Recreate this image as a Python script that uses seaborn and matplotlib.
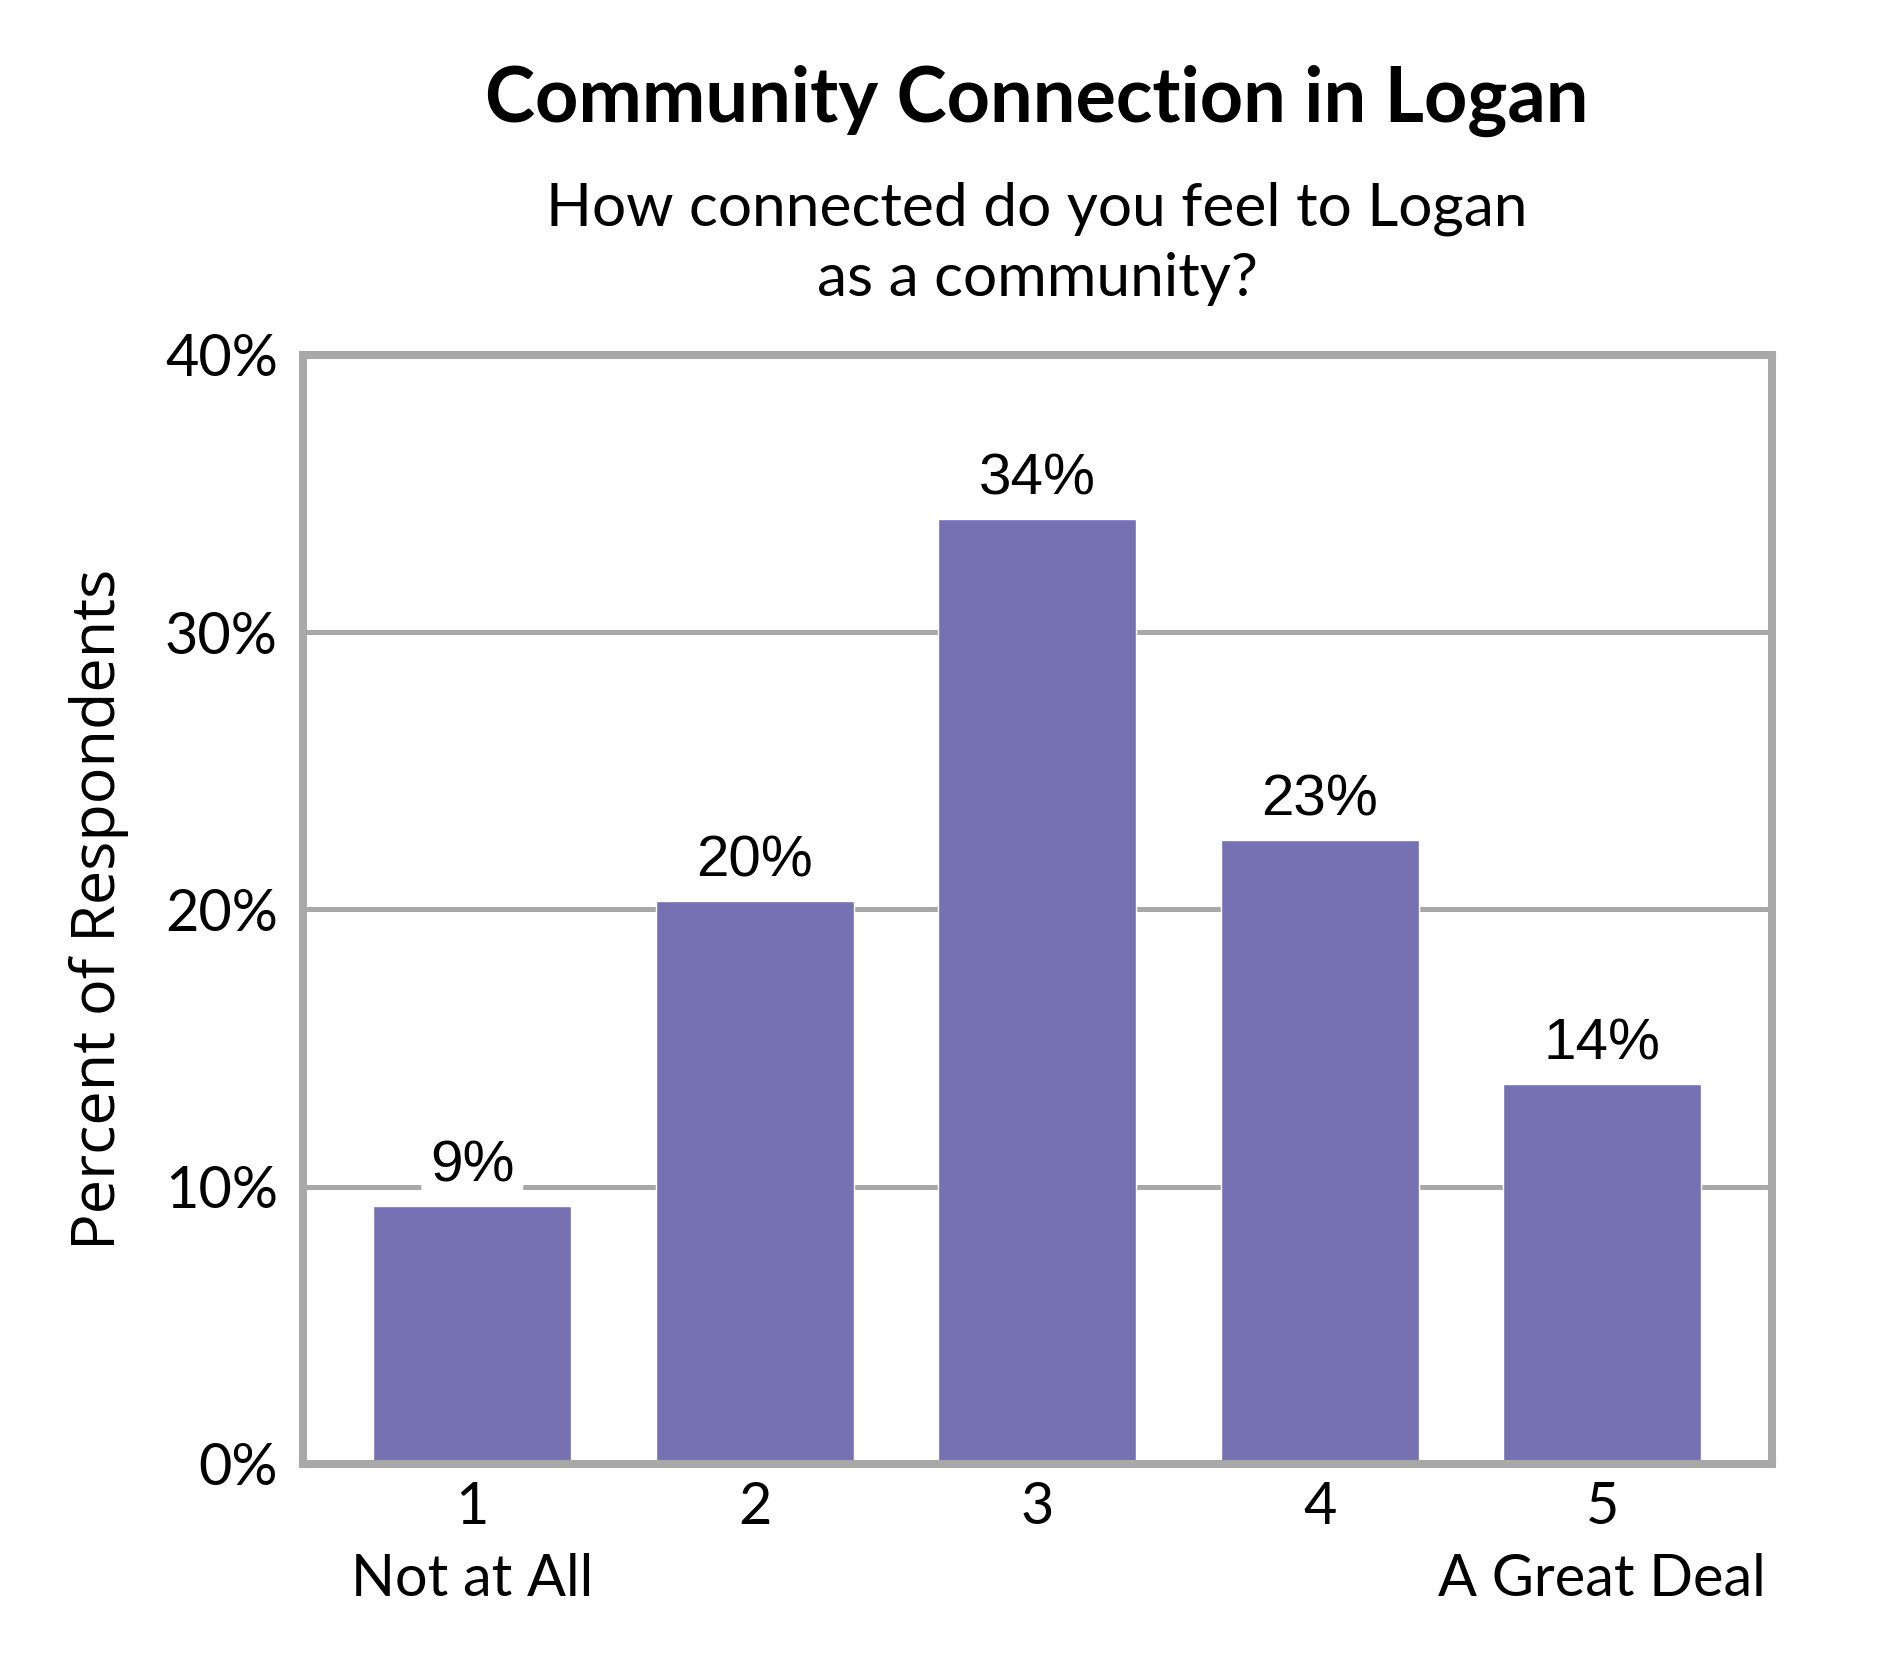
import matplotlib
matplotlib.use("Agg")
import matplotlib.pyplot as plt
import seaborn as sns
import pandas as pd

# ---- data ----
categories = ["1", "2", "3", "4", "5"]
tick_labels = ["1\nNot at All", "2", "3", "4", "5\nA Great Deal"]
values = [9.3, 20.3, 34.1, 22.5, 13.7]
value_labels = ["9%", "20%", "34%", "23%", "14%"]
y_ticks = [0, 10, 20, 30, 40]
y_tick_labels = ["0%", "10%", "20%", "30%", "40%"]

title = "Community Connection in Logan"
subtitle = "How connected do you feel to Logan\nas a community?"
ylabel = "Percent of Respondents"

BAR = "#7671B2"
GRAY = "#A8A8A8"

sns.set_theme(style="white")
plt.rcParams["font.family"] = ["Lato", "DejaVu Sans"]
plt.rcParams["text.color"] = "black"
plt.rcParams["axes.labelcolor"] = "black"
plt.rcParams["xtick.color"] = "black"
plt.rcParams["ytick.color"] = "black"

df = pd.DataFrame({"cat": categories, "val": values})

fig = plt.figure(figsize=(18.9, 16.8), dpi=100)
ax = fig.add_axes([0.1602, 0.1286, 0.9374 - 0.1602, 0.7887 - 0.1286])

sns.barplot(data=df, x="cat", y="val", color=BAR, saturation=1, width=0.70,
            ax=ax, zorder=3)

ax.set_xlim(-0.6, 4.6)
ax.set_ylim(0, 40)
ax.set_yticks(y_ticks)
ax.set_yticklabels(y_tick_labels)
ax.set_xticks(range(len(categories)))
ax.set_xticklabels(tick_labels, linespacing=1.45)
ax.tick_params(axis="both", length=0, labelsize=41.5, colors="black")
ax.tick_params(axis="y", pad=18)
ax.tick_params(axis="x", pad=12)

ax.set_xlabel("")
ax.set_ylabel(ylabel, fontsize=44, family=["Open Sans", "DejaVu Sans"],
              labelpad=26, color="black")

ax.yaxis.grid(True, color=GRAY, linewidth=3.6, zorder=0)
ax.xaxis.grid(False)
ax.set_axisbelow(True)
for s in ax.spines.values():
    s.set_visible(True)
    s.set_color(GRAY)
    s.set_linewidth(5.8)
    s.set_zorder(4)

container = ax.containers[0]
ax.bar_label(container, labels=value_labels, padding=9, fontsize=42,
             family=["Liberation Sans", "DejaVu Sans"], zorder=5, color="black",
             bbox=dict(boxstyle="round,pad=0.15", facecolor="white", edgecolor="none"))

cx = (0.1602 + 0.9374) / 2
fig.text(cx, 1 - 122 / 1680, title, ha="center", va="baseline",
         fontsize=54.5, fontweight="bold", color="black")
fig.text(cx, 1 - 181 / 1680, subtitle, ha="center", va="top",
         fontsize=43.5, linespacing=1.37, color="black")

fig.savefig("out.png", dpi=100, facecolor="white")
